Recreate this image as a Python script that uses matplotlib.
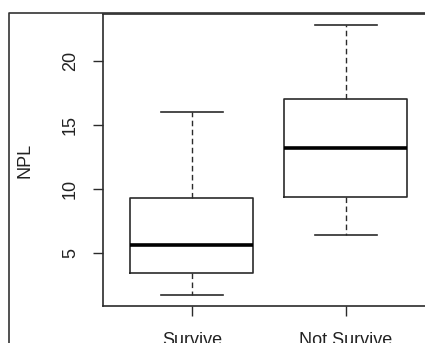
import matplotlib.pyplot as plt
from matplotlib.lines import Line2D

plt.rcParams['font.family'] = ['Liberation Sans', 'DejaVu Sans']

groups = ['Survive', 'Not Survive']
whislo = [1.7, 6.4]
q1 = [3.4, 9.4]
med = [5.6, 13.2]
q3 = [9.3, 17.0]
whishi = [16.0, 22.8]
yticks = [5, 10, 15, 20]

W, H = 425, 343
fig = plt.figure(figsize=(W / 100, H / 100), dpi=100)
# axes spans past the right edge (the reference is a cropped screenshot)
ax = fig.add_axes([102.7 / W, 37 / H, (435 - 102.7) / W, (306 - 14) / H])

stats = []
for i in range(len(groups)):
    stats.append(dict(label=groups[i], whislo=whislo[i], q1=q1[i], med=med[i],
                      q3=q3[i], whishi=whishi[i], fliers=[]))

lc = '#2b2b2b'
ax.bxp(stats, positions=[1, 2], widths=0.8, showfliers=False,
       boxprops=dict(color=lc, linewidth=1.2),
       whiskerprops=dict(color=lc, linewidth=1.0, linestyle=(0, (4, 2.5))),
       capprops=dict(color=lc, linewidth=1.2),
       medianprops=dict(color='black', linewidth=2.6),
       capwidths=0.4)

ax.set_xlim(0.42, 2.58)
ax.set_ylim(0.86, 23.67)
ax.set_yticks(yticks)
ax.set_yticklabels([str(t) for t in yticks], rotation=90, va='center')
ax.tick_params(axis='both', labelsize=13, length=7, width=1.0, color=lc,
               labelcolor='#222222')
ax.tick_params(axis='y', pad=10)
ax.tick_params(axis='x', pad=12)
for s in ax.spines.values():
    s.set_color(lc)
    s.set_linewidth(1.2)

ax.set_ylabel('NPL', fontsize=13, va='center', color='#222222')
ax.yaxis.set_label_coords(-0.234, 0.5)

# outer frame of the screenshot
x0 = 9.3 / W
yt = 1 - 12.5 / H
fig.add_artist(Line2D([x0, x0, 1.0], [0.0, yt, yt], transform=fig.transFigure,
                      color='#333333', linewidth=1.2))

fig.savefig('out.png', dpi=100)
